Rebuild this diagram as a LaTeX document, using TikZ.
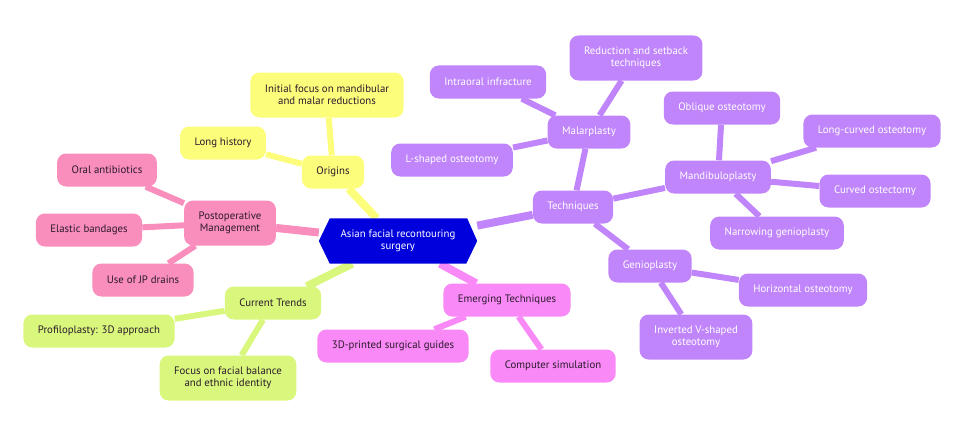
\documentclass[tikz,border=0pt]{standalone}
\usepackage{fontspec}
\setmainfont{PT Sans}
\usetikzlibrary{backgrounds}
\definecolor{cyel}{HTML}{FDFD7C}
\definecolor{cpink}{HTML}{F98DBC}
\definecolor{cgreen}{HTML}{D9F77C}
\definecolor{cmag}{HTML}{F989F6}
\definecolor{cpur}{HTML}{C085FB}
\definecolor{cblue}{HTML}{0000DC}
\definecolor{ctext}{HTML}{2A1A2A}
\tikzset{
  box/.style={rounded corners=9pt, inner xsep=14.5pt, inner ysep=3pt, minimum height=33pt,
    align=center, font={\fontsize{10.8}{12.3}\selectfont}, text=ctext},
  ybox/.style={box, fill=cyel},
  pbox/.style={box, fill=cpink},
  gbox/.style={box, fill=cgreen},
  mbox/.style={box, fill=cmag},
  ubox/.style={box, fill=cpur, text=white},
  tall/.style={minimum height=45pt},
  rootnode/.style={minimum width=158pt, minimum height=45pt, align=center,
    font={\fontsize{10.8}{12.3}\selectfont}, text=white},
  redge/.style={line width=8pt},
  cedge/.style={line width=6pt},
}
\begin{document}
\begin{tikzpicture}[x=1pt,y=-1pt]
\useasboundingbox (0,0) rectangle (966,436);
\node[rootnode] (root) at (398,241) {Asian facial recontouring\\surgery};
% Origins
\node[ybox] (origins) at (333,172) {Origins};
\node[ybox,tall] (initial) at (327,95) {Initial focus on mandibular\\and malar reductions};
\node[ybox] (long) at (223,143) {Long history};
% Postoperative
\node[pbox,tall] (postop) at (230,223) {Postoperative\\Management};
\node[pbox] (oral) at (107,170) {Oral antibiotics};
\node[pbox] (elastic) at (89,230) {Elastic bandages};
\node[pbox] (jp) at (143,280) {Use of JP drains};
% Current trends
\node[gbox] (current) at (273,303) {Current Trends};
\node[gbox] (profilo) at (99,331) {Profiloplasty: 3D approach};
\node[gbox,tall] (focus) at (228,378) {Focus on facial balance\\and ethnic identity};
% Emerging
\node[mbox] (emerging) at (507,300) {Emerging Techniques};
\node[mbox] (guides) at (393,346) {3D-printed surgical guides};
\node[mbox] (sim) at (553,366) {Computer simulation};
% Techniques
\node[ubox] (tech) at (573,207) {Techniques};
\node[ubox] (malar) at (589,132) {Malarplasty};
\node[ubox] (intra) at (488,82) {Intraoral infracture};
\node[ubox,tall] (reduct) at (636,58) {Reduction and setback\\techniques};
\node[ubox] (lshape) at (452,160) {L-shaped osteotomy};
\node[ubox] (mandib) at (718,177) {Mandibuloplasty};
\node[ubox] (oblique) at (722,108) {Oblique osteotomy};
\node[ubox] (longc) at (872,131) {Long-curved osteotomy};
\node[ubox] (curved) at (875,191) {Curved ostectomy};
\node[ubox] (narrow) at (777,233) {Narrowing genioplasty};
\node[ubox] (genio) at (650,266) {Genioplasty};
\node[ubox] (horiz) at (803,290) {Horizontal osteotomy};
\node[ubox,tall] (inverted) at (696,337) {Inverted V-shaped\\osteotomy};
\begin{scope}[on background layer]
  \draw[redge,cyel] (root) -- (origins);
  \draw[redge,cpink] (root) -- (postop);
  \draw[redge,cgreen] (root) -- (current);
  \draw[redge,cmag] (root) -- (emerging);
  \draw[redge,cpur] (root) -- (tech);
  \draw[cedge,cyel] (origins) -- (initial);
  \draw[cedge,cyel] (origins) -- (long);
  \draw[cedge,cpink] (postop) -- (oral);
  \draw[cedge,cpink] (postop) -- (elastic);
  \draw[cedge,cpink] (postop) -- (jp);
  \draw[cedge,cgreen] (current) -- (profilo);
  \draw[cedge,cgreen] (current) -- (focus);
  \draw[cedge,cmag] (emerging) -- (guides);
  \draw[cedge,cmag] (emerging) -- (sim);
  \draw[cedge,cpur] (tech) -- (malar);
  \draw[cedge,cpur] (tech) -- (mandib);
  \draw[cedge,cpur] (tech) -- (genio);
  \draw[cedge,cpur] (malar) -- (intra);
  \draw[cedge,cpur] (malar) -- (reduct);
  \draw[cedge,cpur] (malar) -- (lshape);
  \draw[cedge,cpur] (mandib) -- (oblique);
  \draw[cedge,cpur] (mandib) -- (longc);
  \draw[cedge,cpur] (mandib) -- (curved);
  \draw[cedge,cpur] (mandib) -- (narrow);
  \draw[cedge,cpur] (genio) -- (horiz);
  \draw[cedge,cpur] (genio) -- (inverted);
  \fill[cblue] (root.west) -- ([xshift=11pt]root.north west) -- ([xshift=-10pt]root.north east)
    -- (root.east) -- ([xshift=-11pt]root.south east) -- ([xshift=11pt]root.south west) -- cycle;
\end{scope}
\end{tikzpicture}
\end{document}
